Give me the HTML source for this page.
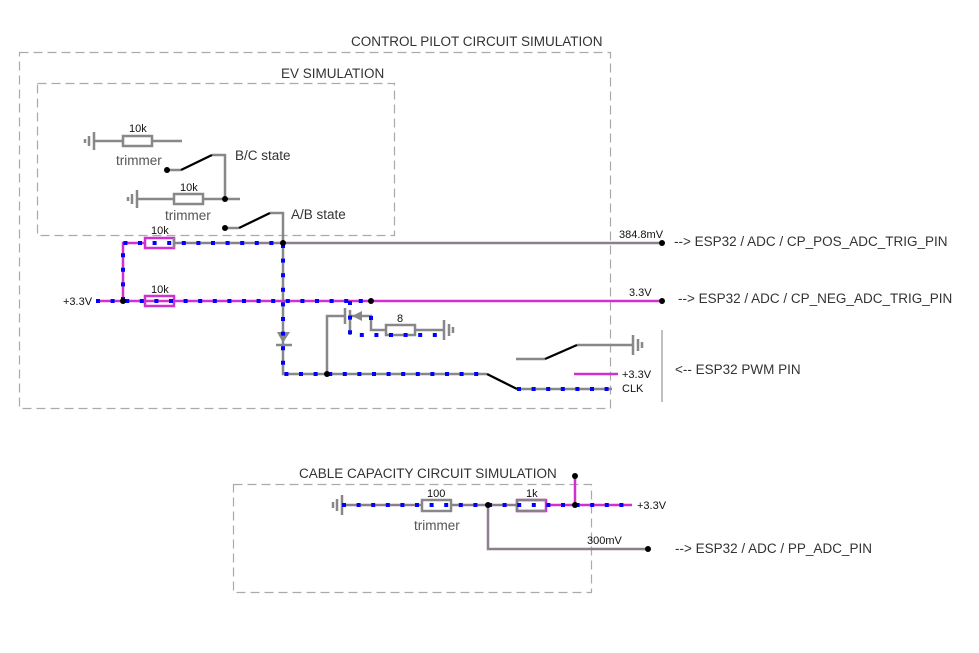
<!DOCTYPE html>
<html><head><style>
body{margin:0;background:#fff}
svg{display:block;font-family:"Liberation Sans",sans-serif}
</style></head><body>
<svg width="979" height="653" viewBox="0 0 979 653">
<g fill="none" stroke="#aaa" stroke-width="1.2" stroke-dasharray="9 5">
<rect x="19.5" y="52.5" width="591" height="356"/>
<rect x="37.5" y="83.5" width="357" height="152"/>
<rect x="233.5" y="484.5" width="358" height="108"/>
</g>
<g font-size="13.5" fill="#333">
<text x="351" y="46">CONTROL PILOT CIRCUIT SIMULATION</text>
<text x="281" y="78">EV SIMULATION</text>
<text x="299" y="478">CABLE CAPACITY CIRCUIT SIMULATION</text>
<text x="235" y="160">B/C state</text>
<text x="291" y="219">A/B state</text>
<text x="116" y="165" fill="#555">trimmer</text>
<text x="165" y="220" fill="#555">trimmer</text>
<text x="414" y="530" fill="#555">trimmer</text>
<text x="674" y="246">--&gt; ESP32 / ADC / CP_POS_ADC_TRIG_PIN</text>
<text x="678" y="303">--&gt; ESP32 / ADC / CP_NEG_ADC_TRIG_PIN</text>
<text x="675" y="374">&lt;-- ESP32 PWM PIN</text>
<text x="675" y="553">--&gt; ESP32 / ADC / PP_ADC_PIN</text>
</g>
<g font-size="11" fill="#111">
<text x="129" y="132">10k</text>
<text x="180" y="191">10k</text>
<text x="151" y="234">10k</text>
<text x="151" y="293">10k</text>
<text x="63" y="305">+3.3V</text>
<text x="397" y="322">8</text>
<text x="619" y="238">384.8mV</text>
<text x="629" y="296">3.3V</text>
<text x="622" y="378">+3.3V</text>
<text x="622" y="392">CLK</text>
<text x="427" y="497">100</text>
<text x="526" y="497">1k</text>
<text x="637" y="509">+3.3V</text>
<text x="587" y="544">300mV</text>
</g>
<g fill="none" stroke="#888" stroke-width="2.5">
<!-- EV sim -->
<path d="M94 141H123M152 141H182"/><rect x="123" y="136" width="29" height="10"/>
<path d="M94 132V150M89 136V146M85 139V143"/>
<path d="M137 199H174M203 199H240"/><rect x="174" y="194" width="29" height="10"/>
<path d="M137 190V208M132 194V204M128 197V201"/>
<path d="M212 155H225V199M167 170H181"/>
<path d="M225 228H239M270 213H283V243"/>
<!-- main -->
<path d="M174 243H662" stroke="#8a7f8a"/>
<path d="M283 243V374H487" />
<path d="M517 389H612M516 359H545M577 345H632"/>
<path d="M633 335V355M638 339V351M642 342V348"/>
<path d="M662 330V402" stroke="#aaa" stroke-width="1.5"/>
<path d="M327 374V316H345M345 308V324M350 310V335M350 316H371V330H386M415 330H443M386 325h29v10h-29z"/>
<path d="M444 320V340M449 324V336M453 327V333"/>
<path d="M276 345H292"/>
<!-- cable -->
<path d="M342 505H422M451 505H517M488 505V549H648" stroke="#8a7f8a"/>
<path d="M342 495V515M337 499V511M333 502V508"/>
<rect x="422" y="500" width="29" height="11"/>
</g>
<path d="M277 332H290L283 343Z" fill="#888"/>
<path d="M352 316L362 311V321Z" fill="#888"/>
<g fill="none" stroke="#000" stroke-width="2.3">
<path d="M181 170L212 155M239 228L270 213M487 374L517 389M545 359L577 345"/>
</g>
<g fill="none" stroke="#d030d0" stroke-width="2.5">
<path d="M96 301H662M123 301V243H145M145 296h29v10h-29zM145 238h29v10h-29z"/>
<path d="M574 374H618M546 505H632M575 476V505"/>
<path d="M517 500h29v11h-29z"/>
</g>
<path d="M174 238V248" stroke="#888" stroke-width="2.5"/>
<path d="M517 500V511M517 500H546M517 511H546" stroke="#8a7f8a" stroke-width="2.5" fill="none"/>
<g fill="none" stroke="#00f" stroke-width="4" stroke-dasharray="4 10.6">
<path d="M96 301H371M123 301V243H283V374H487M517 389H612M350 301V335H443M371 316V330"/>
<path d="M342 505H632"/>
</g>
<g fill="#000">
<circle cx="283" cy="243" r="3"/><circle cx="662" cy="243" r="3"/>
<circle cx="123" cy="301" r="3"/><circle cx="371" cy="301" r="3"/><circle cx="662" cy="301" r="3"/>
<circle cx="327" cy="374" r="3"/><circle cx="167" cy="170" r="3"/><circle cx="225" cy="199" r="3"/>
<circle cx="225" cy="228" r="3"/><circle cx="488" cy="505" r="3"/><circle cx="575" cy="505" r="3"/>
<circle cx="575" cy="476" r="3"/><circle cx="648" cy="549" r="3"/>
</g>
</svg>
</body></html>
